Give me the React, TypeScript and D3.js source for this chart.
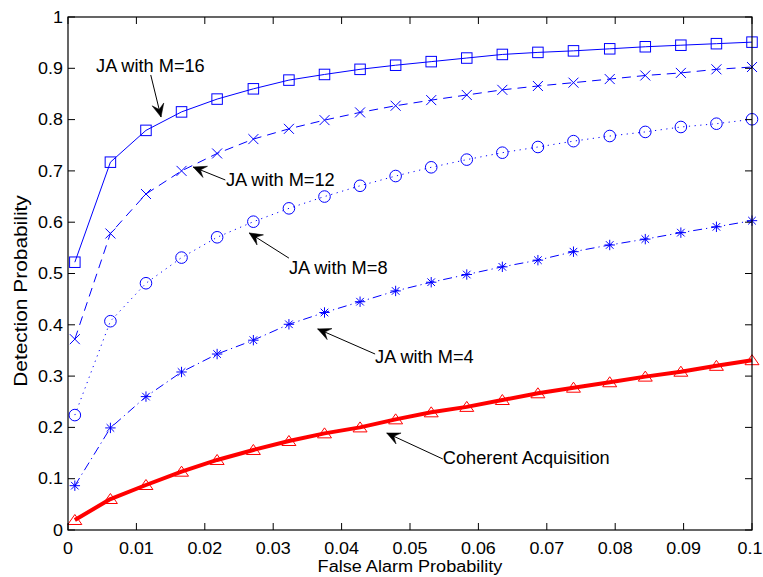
import React from "react";
import * as d3 from "d3";

const W = 763;
const H = 577;

const falseAlarm = [0.001, 0.0062, 0.0114, 0.0166, 0.0218, 0.0271, 0.0323, 0.0375, 0.0427, 0.0479, 0.0531, 0.0583, 0.0635, 0.0687, 0.0739, 0.0792, 0.0844, 0.0896, 0.0948, 0.1];

const jaM16 = [0.522, 0.717, 0.779, 0.815, 0.84, 0.86, 0.877, 0.888, 0.898, 0.906, 0.913, 0.92, 0.927, 0.931, 0.934, 0.938, 0.942, 0.945, 0.948, 0.951];
const jaM12 = [0.372, 0.578, 0.655, 0.7, 0.734, 0.762, 0.782, 0.799, 0.814, 0.827, 0.838, 0.848, 0.858, 0.8655, 0.872, 0.879, 0.886, 0.891, 0.898, 0.9025];
const jaM8 = [0.224, 0.407, 0.481, 0.531, 0.5706, 0.601, 0.627, 0.65, 0.671, 0.69, 0.707, 0.722, 0.7355, 0.7466, 0.758, 0.768, 0.776, 0.7856, 0.792, 0.8006];
const jaM4 = [0.0864, 0.199, 0.26, 0.308, 0.343, 0.37, 0.401, 0.424, 0.445, 0.466, 0.483, 0.498, 0.513, 0.526, 0.5425, 0.5556, 0.567, 0.5796, 0.591, 0.603];
const coherent = [0.0195, 0.0604, 0.0877, 0.1137, 0.1365, 0.156, 0.1735, 0.1884, 0.2, 0.2157, 0.2294, 0.24, 0.2534, 0.2665, 0.2774, 0.288, 0.299, 0.3086, 0.32, 0.331];

const xTickValues = [0, 0.01, 0.02, 0.03, 0.04, 0.05, 0.06, 0.07, 0.08, 0.09, 0.1];
const xTickLabels = ["0", "0.01", "0.02", "0.03", "0.04", "0.05", "0.06", "0.07", "0.08", "0.09", "0.1"];
const yTickValues = [0, 0.1, 0.2, 0.3, 0.4, 0.5, 0.6, 0.7, 0.8, 0.9, 1];
const yTickLabels = ["0", "0.1", "0.2", "0.3", "0.4", "0.5", "0.6", "0.7", "0.8", "0.9", "1"];

// annotations: label, arrow tip (data), arrow tail (data), text anchor (data)
const annoLabels = ["JA with M=16", "JA with M=12", "JA with M=8", "JA with M=4", "Coherent Acquisition"];
const annoTips = [[0.0136, 0.805], [0.0183, 0.7076], [0.0265, 0.579], [0.0365, 0.392], [0.0466, 0.189]];
const annoTails = [[0.0121, 0.887], [0.023, 0.6823], [0.0323, 0.53], [0.0449, 0.343], [0.0548, 0.1384]];
const annoText = [[0.0041, 0.9045], [0.0231, 0.6823], [0.0323, 0.5107], [0.0449, 0.337], [0.0548, 0.14]];

const FONT = "'Liberation Sans', Arial, Helvetica, sans-serif";
const BLUE = "#0000ff";
const RED = "#ff0000";

const x = d3.scaleLinear().domain([0, 0.1]).range([68, 752]);
const y = d3.scaleLinear().domain([0, 1]).range([530, 17]);

function Marker({ kind, cx, cy, color }: { kind: string; cx: number; cy: number; color: string }) {
  const sw = 1;
  if (kind === "square") {
    const s = 10.5;
    return <rect x={cx - s / 2} y={cy - s / 2} width={s} height={s} fill="none" stroke={color} strokeWidth={sw} />;
  }
  if (kind === "x") {
    const r = 5;
    return (
      <g stroke={color} strokeWidth={sw}>
        <line x1={cx - r} y1={cy - r} x2={cx + r} y2={cy + r} />
        <line x1={cx - r} y1={cy + r} x2={cx + r} y2={cy - r} />
      </g>
    );
  }
  if (kind === "circle") {
    return <circle cx={cx} cy={cy} r={5.8} fill="none" stroke={color} strokeWidth={sw} />;
  }
  if (kind === "star") {
    const r = 5.2;
    const d = 3.8;
    return (
      <g stroke={color} strokeWidth={sw}>
        <line x1={cx - r} y1={cy} x2={cx + r} y2={cy} />
        <line x1={cx} y1={cy - r} x2={cx} y2={cy + r} />
        <line x1={cx - d} y1={cy - d} x2={cx + d} y2={cy + d} />
        <line x1={cx - d} y1={cy + d} x2={cx + d} y2={cy - d} />
      </g>
    );
  }
  const hw = 7;
  return (
    <polygon
      points={`${cx},${cy - 5.5} ${cx + hw},${cy + 4.5} ${cx - hw},${cy + 4.5}`}
      fill="none"
      stroke={color}
      strokeWidth={sw}
    />
  );
}

const seriesDefs = [
  { values: jaM16, color: BLUE, width: 1, dash: "", marker: "square" },
  { values: jaM12, color: BLUE, width: 1, dash: "9,6", marker: "x" },
  { values: jaM8, color: BLUE, width: 1, dash: "1.2,4.5", marker: "circle" },
  { values: jaM4, color: BLUE, width: 1, dash: "9,4,1.2,4", marker: "star" },
  { values: coherent, color: RED, width: 4, dash: "", marker: "triangle" },
];

function Arrow({ tip, tail }: { tip: number[]; tail: number[] }) {
  const tx = x(tip[0]);
  const ty = y(tip[1]);
  const sx = x(tail[0]);
  const sy = y(tail[1]);
  const ang = (Math.atan2(ty - sy, tx - sx) * 180) / Math.PI;
  const L = 13;
  const hw = 6;
  return (
    <g>
      <line x1={sx} y1={sy} x2={tx} y2={ty} stroke="#000" strokeWidth={1} />
      <path
        d={`M0,0 L${-L},${-hw} L${-L * 0.6},0 L${-L},${hw} Z`}
        transform={`translate(${tx},${ty}) rotate(${ang})`}
        fill="#000"
        stroke="#000"
        strokeWidth={0.5}
      />
    </g>
  );
}

export default function App() {
  const line = d3
    .line<number>()
    .x((_, i) => x(falseAlarm[i]))
    .y((d) => y(d));

  const tickLen = 7;
  return (
    <svg width={W} height={H} style={{ position: "absolute", left: 0, top: 0, background: "#fff" }}>
      <rect x={0} y={0} width={W} height={H} fill="#fff" />
      {seriesDefs.map((s, k) => (
        <path
          key={"l" + k}
          d={line(s.values) || ""}
          fill="none"
          stroke={s.color}
          strokeWidth={s.width}
          strokeDasharray={s.dash || undefined}
          strokeLinejoin="round"
        />
      ))}
      {seriesDefs.map((s, k) => (
        <g key={"m" + k}>
          {s.values.map((v, i) => (
            <Marker key={i} kind={s.marker} cx={x(falseAlarm[i])} cy={y(v)} color={s.color} />
          ))}
        </g>
      ))}
      <rect x={x(0)} y={y(1)} width={x(0.1) - x(0)} height={y(0) - y(1)} fill="none" stroke="#000" strokeWidth={1.2} />
      {xTickValues.map((t, i) => (
        <g key={"xt" + i}>
          <line x1={x(t)} x2={x(t)} y1={y(0)} y2={y(0) - tickLen} stroke="#000" strokeWidth={1} />
          <line x1={x(t)} x2={x(t)} y1={y(1)} y2={y(1) + tickLen} stroke="#000" strokeWidth={1} />
          <text
            transform={`translate(${i === xTickValues.length - 1 ? x(t) - 2 : x(t)},${y(0) + 24}) scale(1.12,1)`}
            textAnchor="middle"
            fontFamily={FONT}
            fontSize={16}
            fill="#000"
          >
            {xTickLabels[i]}
          </text>
        </g>
      ))}
      {yTickValues.map((t, i) => (
        <g key={"yt" + i}>
          <line x1={x(0)} x2={x(0) + tickLen} y1={y(t)} y2={y(t)} stroke="#000" strokeWidth={1} />
          <line x1={x(0.1)} x2={x(0.1) - tickLen} y1={y(t)} y2={y(t)} stroke="#000" strokeWidth={1} />
          <text
            transform={`translate(${x(0) - 5},${y(t) + 5.7}) scale(1.12,1)`}
            textAnchor="end"
            fontFamily={FONT}
            fontSize={16}
            fill="#000"
          >
            {yTickLabels[i]}
          </text>
        </g>
      ))}
      <text
        transform={`translate(${(x(0) + x(0.1)) / 2},571.5) scale(1.13,1)`}
        textAnchor="middle"
        fontFamily={FONT}
        fontSize={16}
        fill="#000"
      >
        False Alarm Probability
      </text>
      <text
        transform={`translate(26.5,291) rotate(-90) scale(1.13,1)`}
        textAnchor="middle"
        fontFamily={FONT}
        fontSize={18.5}
        fill="#000"
      >
        Detection Probability
      </text>
      {annoLabels.map((lab, i) => (
        <g key={"a" + i}>
          <Arrow tip={annoTips[i]} tail={annoTails[i]} />
          <text
            transform={`translate(${x(annoText[i][0])},${y(annoText[i][1]) + 6.3}) scale(1.04,1)`}
            textAnchor="start"
            fontFamily={FONT}
            fontSize={17.5}
            fill="#000"
          >
            {lab}
          </text>
        </g>
      ))}
    </svg>
  );
}
